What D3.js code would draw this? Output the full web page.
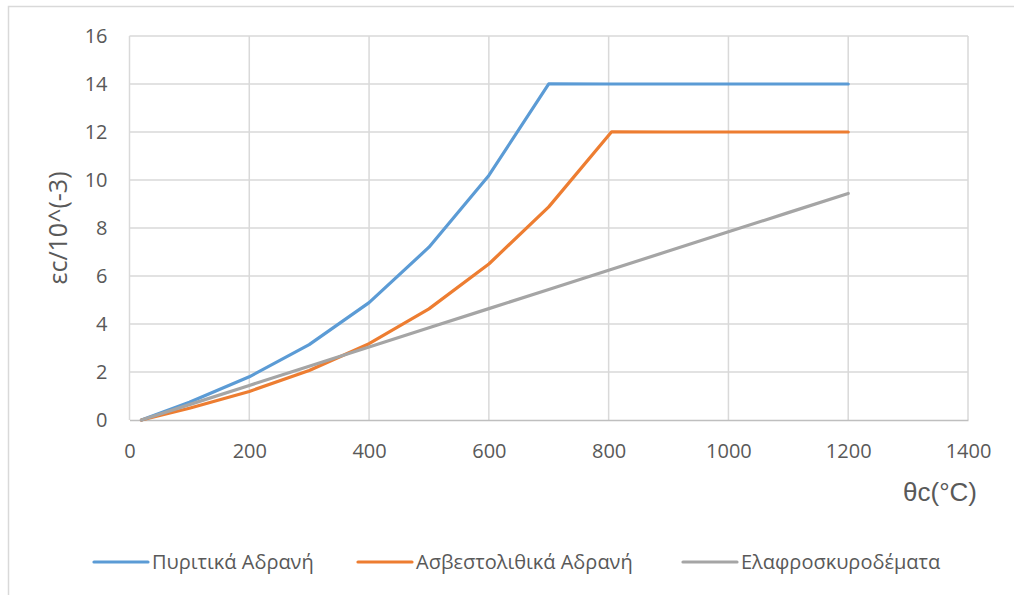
<!DOCTYPE html>
<html>
<head>
<meta charset="utf-8">
<script src="https://cdn.jsdelivr.net/npm/d3@7"></script>
<style>
  html, body { margin: 0; padding: 0; background: #fff; }
  svg { display: block; }
  text { font-family: "Open Sans", "Noto Sans", sans-serif; fill: #595959; }
</style>
</head>
<body>
<svg id="chart" width="1014" height="595"></svg>
<script>
// Thermal strain of concrete vs temperature (values in 10^-3)
const siliceousTemps = [20, 100, 200, 300, 400, 500, 600, 700, 800, 900, 1000, 1100, 1200];
const siliceousStrain = [0.0, 0.74, 1.80, 3.14, 4.89, 7.20, 10.19, 14.01, 14.0, 14.0, 14.0, 14.0, 14.0];

const calcareousTemps = [20, 100, 200, 300, 400, 500, 600, 700, 805, 900, 1000, 1100, 1200];
const calcareousStrain = [0.0, 0.49, 1.19, 2.06, 3.18, 4.63, 6.50, 8.88, 12.01, 12.0, 12.0, 12.0, 12.0];

const lightweightTemps = [20, 100, 200, 300, 400, 500, 600, 700, 800, 900, 1000, 1100, 1200];
const lightweightStrain = [0.0, 0.64, 1.44, 2.24, 3.04, 3.84, 4.64, 5.44, 6.24, 7.04, 7.84, 8.64, 9.44];

const seriesNames = ["Πυριτικά Αδρανή", "Ασβεστολιθικά Αδρανή", "Ελαφροσκυροδέματα"];
const seriesColors = ["#5B9BD5", "#ED7D31", "#A5A5A5"];

const xTicks = [0, 200, 400, 600, 800, 1000, 1200, 1400];
const yTicks = [0, 2, 4, 6, 8, 10, 12, 14, 16];

const xTitle = "θc(°C)";
const yTitle = "εc/10^(-3)";

const series = [
  { name: seriesNames[0], color: seriesColors[0], pts: siliceousTemps.map((t, i) => [t, siliceousStrain[i]]) },
  { name: seriesNames[1], color: seriesColors[1], pts: calcareousTemps.map((t, i) => [t, calcareousStrain[i]]) },
  { name: seriesNames[2], color: seriesColors[2], pts: lightweightTemps.map((t, i) => [t, lightweightStrain[i]]) }
];

const svg = d3.select("#chart");

// outer chart frame
svg.append("rect")
  .attr("x", 8.5).attr("y", 6.5)
  .attr("width", 1014).attr("height", 595)
  .attr("fill", "#fff")
  .attr("stroke", "#d9d9d9").attr("stroke-width", 1.5);

const plot = { left: 129.5, right: 968, top: 36, bottom: 420 };

const x = d3.scaleLinear().domain([0, 1400]).range([plot.left, plot.right]);
const y = d3.scaleLinear().domain([0, 16]).range([plot.bottom, plot.top]);

// gridlines
const grid = svg.append("g");
grid.selectAll(".hg").data(yTicks.filter(d => d > 0)).join("line")
  .attr("x1", plot.left).attr("x2", plot.right)
  .attr("y1", d => y(d)).attr("y2", d => y(d))
  .attr("stroke", "#d9d9d9").attr("stroke-width", 1.5);
grid.selectAll(".vg").data(xTicks).join("line")
  .attr("x1", d => x(d)).attr("x2", d => x(d))
  .attr("y1", plot.top).attr("y2", plot.bottom)
  .attr("stroke", "#d9d9d9").attr("stroke-width", 1.5);

// axes
const xAxis = svg.append("g")
  .attr("transform", `translate(0,${plot.bottom})`)
  .call(d3.axisBottom(x).tickValues(xTicks).tickSize(0).tickPadding(24).tickFormat(d3.format("d")));
xAxis.select(".domain").attr("stroke", "#bfbfbf").attr("stroke-width", 1.5);
xAxis.selectAll("text").style("font-size", "20px").attr("fill", "#595959");

const yAxis = svg.append("g")
  .attr("transform", `translate(${plot.left},0)`)
  .call(d3.axisLeft(y).tickValues(yTicks).tickSize(0).tickPadding(22).tickFormat(d3.format("d")));
yAxis.select(".domain").remove();
yAxis.selectAll("text").style("font-size", "20px").attr("fill", "#595959");

// series lines
const line = d3.line().x(d => x(d[0])).y(d => y(d[1]));
svg.append("g").selectAll("path").data(series).join("path")
  .attr("d", d => line(d.pts))
  .attr("fill", "none")
  .attr("stroke", d => d.color)
  .attr("stroke-width", 3.2)
  .attr("stroke-linejoin", "round")
  .attr("stroke-linecap", "round");

// axis titles
svg.append("text")
  .attr("x", 977).attr("y", 501)
  .attr("text-anchor", "end")
  .style("font-family", "'Liberation Sans', Arial, sans-serif")
  .style("font-size", "26px")
  .text(xTitle);

svg.append("text")
  .attr("transform", `translate(67,228) rotate(-90)`)
  .attr("text-anchor", "middle")
  .style("font-size", "25px")
  .text(yTitle);

// legend
const legendX = [94, 358, 683];
const lg = svg.append("g").selectAll("g").data(series).join("g")
  .attr("transform", (d, i) => `translate(${legendX[i]},562)`);
lg.append("line")
  .attr("x1", 0).attr("x2", 54).attr("y1", 0).attr("y2", 0)
  .attr("stroke", d => d.color).attr("stroke-width", 3.2)
  .attr("stroke-linecap", "round");
lg.append("text")
  .attr("x", 58).attr("y", 0).attr("dy", "0.35em")
  .style("font-size", "20px")
  .text(d => d.name);
</script>
</body>
</html>
